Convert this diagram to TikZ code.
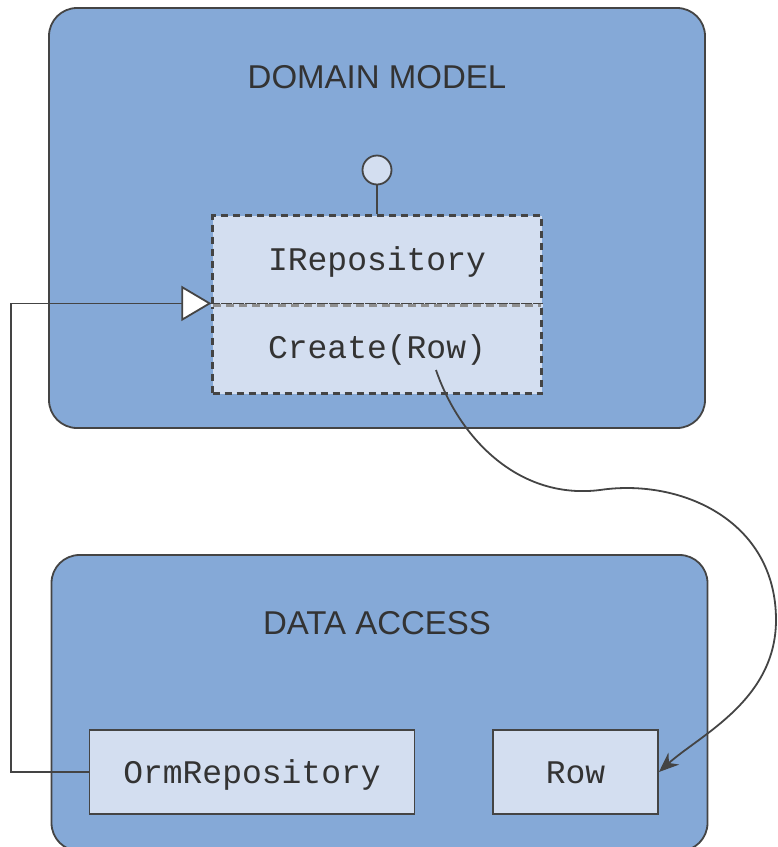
\documentclass[tikz,border=0pt]{standalone}
\usepackage{fontspec}
\setmainfont{Liberation Sans}
\newfontfamily\monof{Liberation Mono}
\usetikzlibrary{arrows.meta}
\definecolor{outerfill}{HTML}{85A9D7}
\definecolor{innerfill}{HTML}{D3DEF0}
\definecolor{edgec}{HTML}{444444}
\definecolor{txtc}{HTML}{333333}
\tikzset{
  layerbox/.style={draw=edgec, line width=1.8pt, fill=outerfill, rounded corners=28pt, inner sep=0pt},
  layertitle/.style={text=txtc, font=\fontsize{33}{40}\selectfont, inner sep=0pt},
  ifacebox/.style={draw=edgec, line width=2.2pt, dash pattern=on 7pt off 5pt, fill=innerfill, inner sep=0pt,
    minimum width=329pt, minimum height=89pt},
  classbox/.style={draw=edgec, line width=1.8pt, fill=innerfill, inner sep=0pt, minimum height=84pt},
  monotext/.style={text=txtc, font=\monof\fontsize{33}{40}\selectfont, inner sep=0pt, anchor=base},
  conn/.style={draw=edgec, line width=1.8pt},
}
\begin{document}
\begin{tikzpicture}[x=1pt,y=-1pt]
\useasboundingbox (0,0) rectangle (778,847);
% layers
\node[layerbox, minimum width=656pt, minimum height=420pt] (dm) at (377,218) {};
\node[layerbox, minimum width=656pt, minimum height=296pt] (da) at (379.5,703) {};
\node[layertitle] (dmt) at (377,77) {DOMAIN MODEL};
\node[layertitle] (dat) at (377,623) {DATA ACCESS};
% interface
\node[ifacebox] (irep) at (377,260) {};
\node[ifacebox] (create) at (377,349) {};
\draw[draw=innerfill, line width=3pt] (irep.south west) -- (irep.south east);
\draw[draw=edgec!60, line width=2.5pt, dash pattern=on 8pt off 5pt] ([xshift=2pt]irep.south west) -- ([xshift=-2pt]irep.south east);
\node[monotext] (irept) at (377,270) {IRepository};
\node[monotext] (createt) at (377,358) {Create(Row)};
% lollipop
\node[draw=edgec, line width=1.8pt, fill=innerfill, circle, minimum size=29pt, inner sep=0pt] (lol) at (377,170) {};
\draw[conn] (lol.south) -- (irep.north);
% data access classes
\node[classbox, minimum width=325pt] (orm) at (252,772) {};
\node[monotext] (ormt) at (252,783) {OrmRepository};
\node[classbox, minimum width=165pt] (row) at (575.5,772) {};
\node[monotext] (rowt) at (575.5,783) {Row};
% realization arrow
\draw[conn, -{Triangle[length=30pt, width=35pt, fill=white, line width=1.8pt]}]
  (orm.west) -- ++(-78,0) |- (create.north west);
% curved dependency arrow
\coordinate (cs) at (436,370);
\draw[conn, -{Stealth[length=20pt, width=16pt]}]
  (cs) .. controls (460,440) and (520,500) .. (600,490)
       .. controls (680,478) and (776,520) .. (776,620)
       .. controls (776,700) and (700,735) .. (row.east);
\end{tikzpicture}
\end{document}
